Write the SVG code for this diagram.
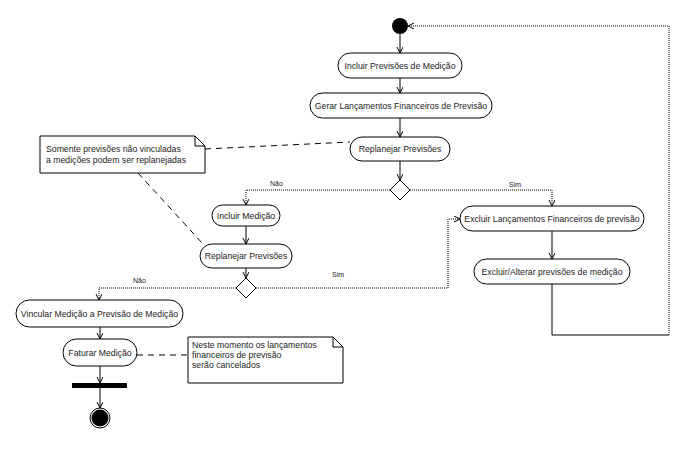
<svg xmlns="http://www.w3.org/2000/svg" width="688" height="455" viewBox="0 0 688 455">
<style>
.act{fill:#fff;stroke:#000;stroke-width:1}
.t{font-family:"Liberation Sans",Arial,sans-serif;font-size:8.7px;fill:#222}
.lbl{font-family:"Liberation Sans",Arial,sans-serif;font-size:7px;fill:#222}
.ln{fill:none;stroke:#000;stroke-width:1}
.dot{fill:none;stroke:#000;stroke-width:1;stroke-dasharray:1 1}
.dash{fill:none;stroke:#000;stroke-width:1;stroke-dasharray:6 5}
.note{fill:#fff;stroke:#000;stroke-width:1}
</style>
<defs>
<marker id="arr" markerUnits="userSpaceOnUse" markerWidth="10" markerHeight="10" refX="6" refY="3" orient="auto">
<path d="M0,0 L6,3 L0,6" fill="none" stroke="#000" stroke-width="1"/>
</marker>
</defs>
<rect width="688" height="455" fill="#fff"/>
<g id="connectors">
<line class="ln" x1="400" y1="34" x2="400" y2="53" marker-end="url(#arr)"/>
<line class="ln" x1="400" y1="78" x2="400" y2="93" marker-end="url(#arr)"/>
<line class="ln" x1="400" y1="118" x2="400" y2="137" marker-end="url(#arr)"/>
<line class="ln" x1="400" y1="161" x2="400" y2="180" marker-end="url(#arr)"/>
<polyline class="dot" points="390,190 246,190 246,205" marker-end="url(#arr)"/>
<line class="ln" x1="246" y1="226" x2="246" y2="244" marker-end="url(#arr)"/>
<line class="ln" x1="246" y1="268" x2="246" y2="278" marker-end="url(#arr)"/>
<polyline class="dot" points="236,288 99,288 99,300" marker-end="url(#arr)"/>
<line class="ln" x1="100" y1="327" x2="100" y2="339" marker-end="url(#arr)"/>
<line class="ln" x1="100" y1="366" x2="100" y2="383" marker-end="url(#arr)"/>
<line class="ln" x1="100" y1="388" x2="100" y2="408" marker-end="url(#arr)"/>
<polyline class="dot" points="410,190 552,190 552,206" marker-end="url(#arr)"/>
<polyline class="dot" points="256,288 448,288 448,219 460,219" marker-end="url(#arr)"/>
<line class="ln" x1="552" y1="231" x2="552" y2="259" marker-end="url(#arr)"/>
<polyline class="ln" points="552,284 552,335 669,335"/>
<polyline class="dot" points="669,335 669,26 408,26" marker-end="url(#arr)"/>
<line class="dash" x1="205" y1="149" x2="350" y2="142"/>
<line class="dash" x1="138" y1="173" x2="203" y2="244"/>
<line class="dash" x1="137" y1="355" x2="188" y2="355"/>
<text class="lbl" x="270" y="186">Não</text>
<text class="lbl" x="509" y="187">Sim</text>
<text class="lbl" x="133" y="283">Não</text>
<text class="lbl" x="332" y="277">Sim</text>
</g>
<g id="start"><circle cx="400" cy="26" r="8" fill="#000"/></g>
<g id="n1"><rect class="act" x="338" y="53" width="124" height="25" rx="12.5"/><text class="t" x="400" y="69" text-anchor="middle">Incluir Previsões de Medição</text></g>
<g id="n2"><rect class="act" x="310" y="93" width="182" height="25" rx="12.5"/><text class="t" x="401" y="109" text-anchor="middle">Gerar Lançamentos Financeiros de Previsão</text></g>
<g id="n3"><rect class="act" x="350" y="137" width="100" height="24" rx="12"/><text class="t" x="400" y="152" text-anchor="middle">Replanejar Previsões</text></g>
<g id="d1"><polygon class="act" points="400,180 410,190 400,200 390,190"/></g>
<g id="n4"><rect class="act" x="212" y="205" width="68" height="21" rx="10.5"/><text class="t" x="246" y="219" text-anchor="middle">Incluir Medição</text></g>
<g id="n5"><rect class="act" x="200" y="244" width="92" height="24" rx="12"/><text class="t" x="246" y="259" text-anchor="middle">Replanejar Previsões</text></g>
<g id="d2"><polygon class="act" points="246,278 256,288 246,298 236,288"/></g>
<g id="n6"><rect class="act" x="16" y="300" width="167" height="27" rx="13.5"/><text class="t" x="99.5" y="317" text-anchor="middle">Vincular Medição a Previsão de Medição</text></g>
<g id="n7"><rect class="act" x="63" y="339" width="74" height="27" rx="13.5"/><text class="t" x="100" y="356" text-anchor="middle">Faturar Medição</text></g>
<g id="bar"><rect x="72" y="383" width="55" height="5" fill="#000"/></g>
<g id="end"><circle cx="100" cy="418" r="10" fill="#fff" stroke="#000"/><circle cx="100" cy="418" r="8.5" fill="#000"/></g>
<g id="n8"><rect class="act" x="460" y="206" width="184" height="25" rx="12.5"/><text class="t" x="552" y="222" text-anchor="middle">Excluir Lançamentos Financeiros de previsão</text></g>
<g id="n9"><rect class="act" x="474" y="259" width="156" height="25" rx="12.5"/><text class="t" x="552" y="275" text-anchor="middle">Excluir/Alterar previsões de medição</text></g>
<g id="note1"><path class="note" d="M40,136 H195 L205,146 V173 H40 Z"/><path class="ln" d="M195,136 V146 H205"/><text class="t" x="46" y="152">Somente previsões não vinculadas</text><text class="t" x="46" y="163">a medições podem ser replanejadas</text></g>
<g id="note2"><path class="note" d="M188,337 H333 L343,347 V383 H188 Z"/><path class="ln" d="M333,337 V347 H343"/><text class="t" x="192" y="348">Neste momento os lançamentos</text><text class="t" x="192" y="358">financeiros de previsão</text><text class="t" x="192" y="368">serão cancelados</text></g>
</svg>
